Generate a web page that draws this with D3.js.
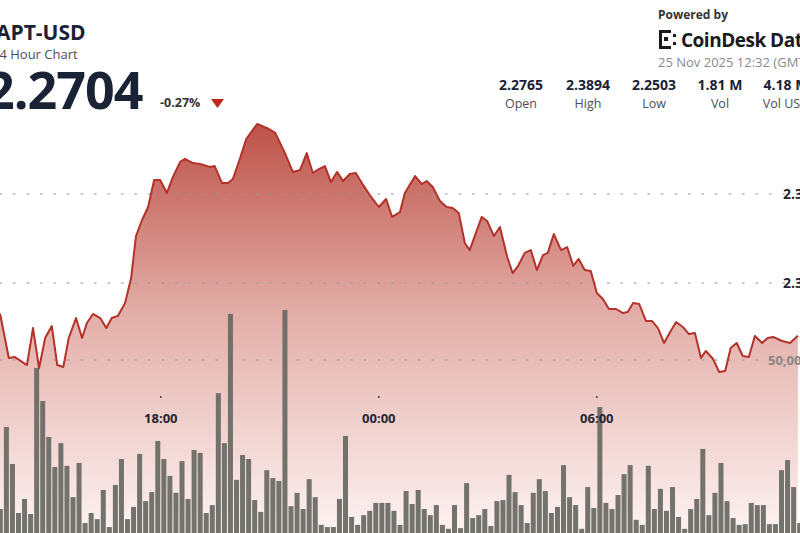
<!DOCTYPE html>
<html><head><meta charset="utf-8">
<script src="https://cdn.jsdelivr.net/npm/d3@7"></script>
<style>body{margin:0;background:#fff;overflow:hidden}svg{display:block;font-family:"Open Sans",sans-serif}</style>
</head><body><svg id="c" width="800" height="533"></svg>
<script>
// minutes since 24 Nov 2025 13:30
const priceMinutes=[5,19,29,49,59,69,79,90,99,109,118,130,140,148,158,170,180,189,199,211,221,229,239,249,259,269,280,290,302,310,323,335,351,359,371,381,389,401,411,429,445,459,475,488,500,511,521,531,541,551,561,571,582,592,604,615,630,642,652,665,673,690,701,709,719,731,742,752,762,772,780,800,809,820,830,842,851,860,871,881,891,901,909,919,931,941,951,960,970,980,990,1000,1010,1022,1033,1041,1050,1060,1071,1081,1091,1101,1111,1121,1132,1142,1152,1162,1170,1182,1192,1202,1211,1221,1231,1241,1251,1263,1272,1281,1296,1309,1322];
const prices=[2.2820,2.2579,2.2584,2.2539,2.2747,2.2522,2.2691,2.2758,2.2539,2.2528,2.2691,2.2803,2.2691,2.2775,2.2826,2.2803,2.2747,2.2803,2.2815,2.2888,2.3028,2.3264,2.3354,2.3427,2.3579,2.3579,2.3506,2.3596,2.3680,2.3697,2.3674,2.3669,2.3652,2.3657,2.3562,2.3562,2.3584,2.3702,2.3809,2.3893,2.3871,2.3843,2.3730,2.3624,2.3635,2.3730,2.3618,2.3640,2.3657,2.3567,2.3624,2.3573,2.3612,2.3618,2.3551,2.3494,2.3427,2.3472,2.3371,2.3399,2.3506,2.3601,2.3556,2.3573,2.3539,2.3461,2.3427,2.3421,2.3393,2.3225,2.3185,2.3371,2.3348,2.3264,2.3315,2.3146,2.3056,2.3096,2.3169,2.3185,2.3073,2.3157,2.3169,2.3275,2.3185,2.3202,2.3096,2.3135,2.3073,2.3067,2.2944,2.2910,2.2854,2.2854,2.2831,2.2837,2.2888,2.2882,2.2787,2.2787,2.2747,2.2663,2.2725,2.2781,2.2753,2.2713,2.2719,2.2579,2.2618,2.2573,2.2500,2.2506,2.2635,2.2663,2.2590,2.2584,2.2702,2.2663,2.2691,2.2697,2.2674,2.2663,2.2704];
// volume in thousands, one bar per 10 minutes starting 13:35
const volumes=[8.6,31.4,21.1,7.5,11.4,7.2,47.8,38.6,28.6,20.3,26.9,20.6,11.9,21.4,4.7,7.5,5.8,13.9,3.6,15.3,22.5,5.8,9.2,23.9,10.8,13.3,27.5,22.5,17.8,13.1,21.9,11.4,25.0,24.2,7.5,9.7,40.8,26.9,62.8,16.7,23.6,22.5,11.1,7.8,19.4,
17.2,16.4,63.9,9.4,13.1,8.6,16.9,11.9,4.2,3.6,3.6,11.4,28.9,6.4,4.2,6.9,8.1,10.3,10.3,10.3,8.1,4.2,13.6,10.0,13.9,8.6,6.9,9.7,4.2,3.1,9.7,3.3,15.8,6.1,6.9,8.6,3.9,10.8,11.1,18.1,13.3,9.7,4.7,13.1,
16.9,13.6,7.5,9.2,20.8,11.9,9.7,3.1,14.7,8.9,36.9,10.3,8.6,12.5,18.3,20.8,5.6,4.2,20.6,8.6,14.2,8.1,14.7,6.4,3.1,8.6,11.4,25.3,6.9,13.1,21.4,10.8,6.1,4.2,4.4,10.3,9.7,9.7,4.4,4.4,19.4,22.2,14.7,4.7];
const priceTicks=[2.30,2.35];
const volTicks=[50000];
const timeTicks=["18:00","00:00","06:00"];
const stats=[["2.2765","Open"],["2.3894","High"],["2.2503","Low"],["1.81 M","Vol"],["4.18 M","Vol USD"]];

const svg=d3.select("#c");
const t0=new Date(2025,10,24,13,30);
const tm=m=>new Date(+t0+m*60000);
const x=d3.scaleTime().domain([t0,tm(1326)]).range([-2.7,800.3]);
const y=d3.scaleLinear().domain([2.25,2.35]).range([372,194]);
const yv=d3.scaleLinear().domain([0,50000]).range([540,360]);

const defs=svg.append("defs");
const g=defs.append("linearGradient").attr("id","ag").attr("gradientUnits","userSpaceOnUse").attr("x1",0).attr("y1",124).attr("x2",0).attr("y2",533);
g.append("stop").attr("offset",0).attr("stop-color","#bd5248");
g.append("stop").attr("offset",0.45).attr("stop-color","#e2aca6");
g.append("stop").attr("offset",1).attr("stop-color","#fdf3f2");

const pts=prices.map((p,i)=>({t:tm(priceMinutes[i]),p}));
pts.unshift({t:tm(-10),p:2.2900});
svg.append("path").datum(pts).attr("fill","url(#ag)")
 .attr("d",d3.area().x(d=>x(d.t)).y0(533).y1(d=>y(d.p)));

function dotted(yy){svg.append("line").attr("x1",0).attr("x2",800).attr("y1",yy).attr("y2",yy)
 .attr("stroke","#9a9a9a").attr("stroke-width",1.6).attr("stroke-dasharray","1.5,12").attr("stroke-linecap","round").attr("opacity",0.7);}
priceTicks.forEach(v=>dotted(y(v)));
volTicks.forEach(v=>dotted(yv(v)));

svg.append("g").selectAll("rect").data(volumes).join("rect")
 .attr("x",(v,i)=>x(tm(5+10*i))-2.5).attr("width",5)
 .attr("y",v=>yv(v*1000)).attr("height",v=>540-yv(v*1000))
 .attr("fill","#6b6b66").attr("opacity",0.95);

svg.append("path").datum(pts).attr("fill","none").attr("stroke","#b3322a").attr("stroke-width",2).attr("stroke-linejoin","round")
 .attr("d",d3.line().x(d=>x(d.t)).y(d=>y(d.p)));

priceTicks.forEach(v=>svg.append("text").attr("x",783).attr("y",y(v)+5).attr("font-size",14).attr("font-weight",700).attr("fill","#1f2533").text(v.toFixed(2)));
volTicks.forEach(v=>svg.append("text").attr("x",768).attr("y",yv(v)+5).attr("font-size",13).attr("font-weight",700).attr("fill","#8d8585").text(d3.format(",")(v)));
const tdates=[new Date(2025,10,24,18,0),new Date(2025,10,25,0,0),new Date(2025,10,25,6,0)];
tdates.forEach((d,i)=>{
 svg.append("circle").attr("cx",x(d)).attr("cy",397).attr("r",0.9).attr("fill","#333");
 svg.append("text").attr("x",x(d)).attr("y",423).attr("text-anchor","middle").attr("font-size",13).attr("font-weight",700).attr("fill","#1f2533").text(timeTicks[i]);
});

svg.append("text").attr("x",-4).attr("y",40).attr("font-size",21).attr("font-weight",700).attr("fill","#1a2236").text("APT-USD");
svg.append("text").attr("x",-8).attr("y",59).attr("font-size",13).attr("fill","#4a4f5a").text("24 Hour Chart");
svg.append("text").attr("x",-15).attr("y",109).attr("font-size",52).attr("font-weight",700).attr("fill","#1a2236").attr("letter-spacing",-1).text("2.2704");
svg.append("text").attr("x",160).attr("y",107).attr("font-size",12.5).attr("font-weight",700).attr("fill","#333").text("-0.27%");
svg.append("path").attr("d","M211,99 L224,99 L217.5,108 Z").attr("fill","#c0271c");

svg.append("text").attr("x",658).attr("y",19).attr("font-size",12).attr("font-weight",700).attr("fill","#333").text("Powered by");
const lg=svg.append("g").attr("fill","#1a1a1a");
lg.append("rect").attr("x",659).attr("y",30).attr("width",3).attr("height",19);
lg.append("rect").attr("x",659).attr("y",30).attr("width",12).attr("height",3);
lg.append("rect").attr("x",659).attr("y",46).attr("width",12).attr("height",3);
lg.append("rect").attr("x",664).attr("y",37).attr("width",4).attr("height",4);
lg.append("rect").attr("x",673).attr("y",34).attr("width",3).attr("height",3);
lg.append("rect").attr("x",673).attr("y",42).attr("width",3).attr("height",3);
svg.append("text").attr("x",681).attr("y",47).attr("font-size",19).attr("font-weight",700).attr("fill","#1a1a1a").attr("letter-spacing",-0.5).text("CoinDesk Data");
svg.append("text").attr("x",658).attr("y",67).attr("font-size",13).attr("fill","#8a8a8a").text("25 Nov 2025 12:32 (GMT)");
const sx=[521,588,654,720,786];
stats.forEach((s,i)=>{
 svg.append("text").attr("x",sx[i]).attr("y",90).attr("text-anchor","middle").attr("font-size",14).attr("font-weight",700).attr("fill","#1a2236").text(s[0]);
 svg.append("text").attr("x",sx[i]).attr("y",108).attr("text-anchor","middle").attr("font-size",12.5).attr("fill","#4a4f5a").text(s[1]);
});
</script></body></html>
